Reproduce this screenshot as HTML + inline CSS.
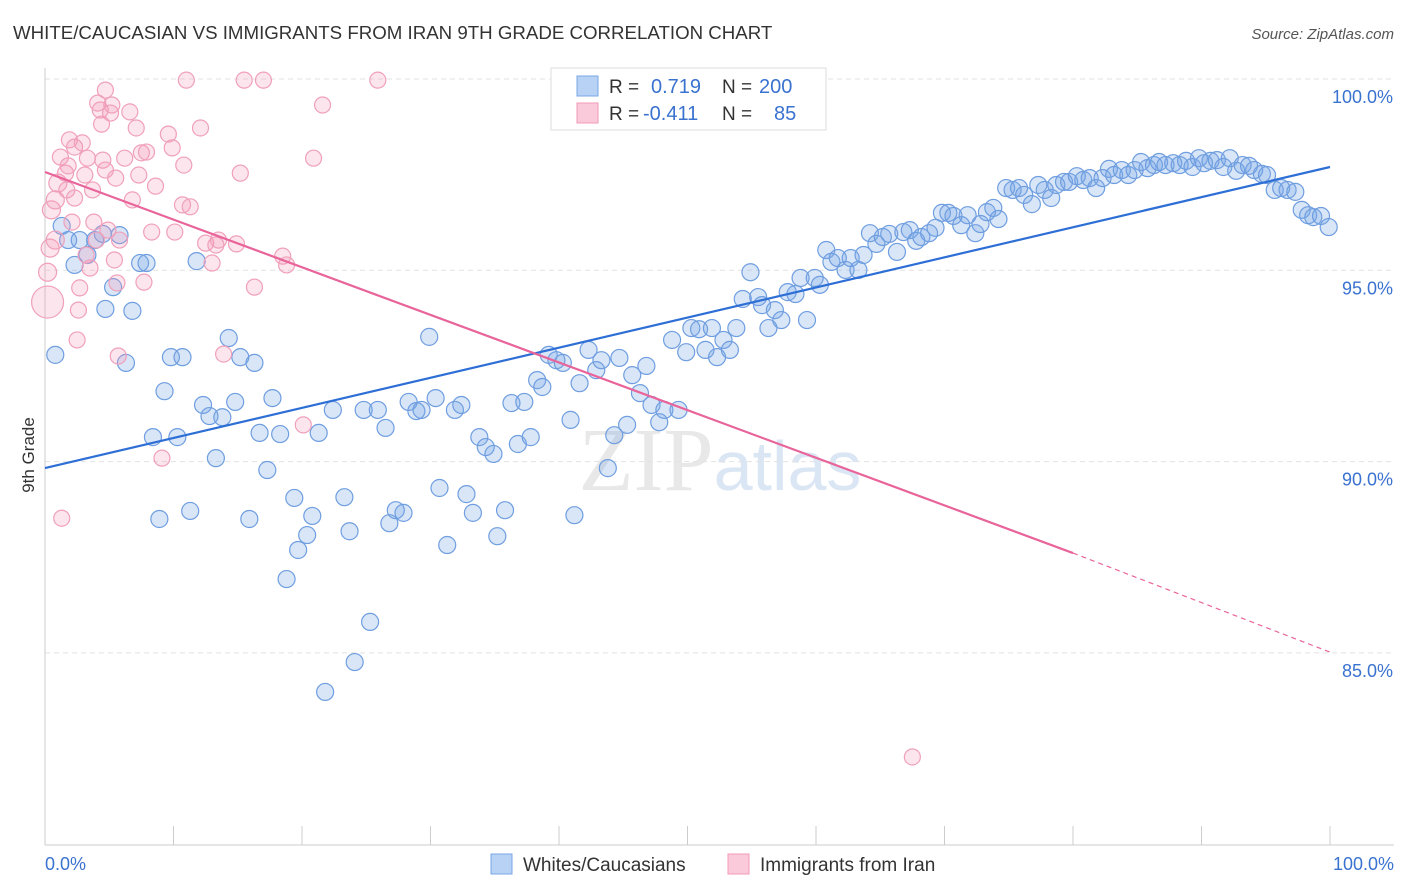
<!DOCTYPE html>
<html><head><meta charset="utf-8"><style>
body{margin:0;background:#fff;font-family:"Liberation Sans",sans-serif;}
svg{display:block}
</style></head><body>
<svg id="chart" width="1406" height="892" xmlns="http://www.w3.org/2000/svg">
<text x="13" y="39" font-size="18.7" fill="#333" font-family="Liberation Sans, sans-serif">WHITE/CAUCASIAN VS IMMIGRANTS FROM IRAN 9TH GRADE CORRELATION CHART</text>
<text x="1394" y="39" font-size="15" fill="#555" text-anchor="end" font-style="italic">Source: ZipAtlas.com</text>
<text x="720" y="490" font-size="90" fill="#e8e8e8" text-anchor="middle" font-family="Liberation Serif, serif">ZIP<tspan fill="#dbe6f5" font-family="Liberation Sans, sans-serif" font-size="70">atlas</tspan></text>
<g id="grid"></g>
<g id="axes"></g>
<g id="blue-pts"></g>
<g id="pink-pts"></g>
<g id="trends"></g>
<text transform="translate(34,455) rotate(-90)" font-size="17" fill="#333" text-anchor="middle">9th Grade</text>
<g>
<rect x="551" y="68" width="275" height="62" fill="#fff" stroke="#ddd"/>
<rect x="577" y="76" width="21" height="20" fill="#b8d2f5" stroke="#7aa7e6"/>
<rect x="577" y="103" width="21" height="20" fill="#fbcada" stroke="#f19ab7"/>
<text x="609" y="93" font-size="19" fill="#333">R = </text><text x="651" y="93" font-size="20" fill="#3a72d0">0.719</text>
<text x="722" y="93" font-size="19" fill="#333">N = </text><text x="759" y="93" font-size="20" fill="#3a72d0">200</text>
<text x="609" y="120" font-size="19" fill="#333">R = </text><text x="643" y="120" font-size="20" fill="#3a72d0">-0.411</text>
<text x="722" y="120" font-size="19" fill="#333">N = </text><text x="774" y="120" font-size="20" fill="#3a72d0">85</text>
</g>
<g>
<rect x="491" y="854" width="21" height="20" fill="#b8d2f5" stroke="#7aa7e6"/>
<text x="523" y="871" font-size="19" fill="#333">Whites/Caucasians</text>
<rect x="728" y="854" width="21" height="20" fill="#fbcada" stroke="#f19ab7"/>
<text x="760" y="871" font-size="19" fill="#333">Immigrants from Iran</text>
</g>
</svg>
<script>
const blueX=[0.8,1.3,1.8,2.7,3.9,2.3,3.3,4.5,5.3,5.8,4.7,6.8,6.3,7.4,7.9,8.4,8.9,9.3,9.8,10.3,10.7,11.3,11.8,12.3,12.8,13.3,13.8,14.3,14.8,15.2,15.9,16.3,16.7,17.3,17.7,18.3,19.4,19.7,18.8,20.4,20.8,21.3,21.8,22.4,23.3,23.7,24.1,24.8,25.3,25.9,26.5,26.8,27.3,27.9,28.3,28.9,29.3,29.9,30.4,30.7,31.3,31.9,32.4,32.8,33.3,33.8,34.3,34.9,35.2,35.8,36.3,36.8,37.3,37.8,38.3,38.7,39.2,39.8,40.3,40.9,41.2,41.6,42.3,42.9,43.3,43.8,44.3,44.7,45.3,45.7,46.3,46.8,47.2,47.8,48.2,48.8,49.3,49.9,50.3,50.9,51.4,51.9,52.3,52.8,53.3,53.8,54.3,54.9,55.5,55.8,56.3,56.8,57.3,57.8,58.4,58.8,59.3,59.9,60.3,60.8,61.2,61.7,62.3,62.7,63.3,63.7,64.2,64.7,65.2,65.7,66.3,66.8,67.3,67.8,68.2,68.8,69.3,69.8,70.3,70.7,71.3,71.8,72.4,72.8,73.3,73.8,74.2,74.8,75.3,75.8,76.2,76.8,77.3,77.8,78.3,78.7,79.3,79.7,80.3,80.8,81.3,81.8,82.3,82.8,83.2,83.8,84.3,84.8,85.3,85.8,86.3,86.7,87.2,87.8,88.3,88.8,89.3,89.8,90.2,90.7,91.2,91.7,92.2,92.7,93.2,93.7,94.1,94.7,95.1,95.7,96.2,96.7,97.3,97.8,98.3,98.7,99.3,99.9];
const blueY=[92.79,96.16,95.79,95.79,95.79,95.14,95.40,95.95,94.56,95.92,93.99,93.94,92.58,95.19,95.19,90.64,88.50,91.84,92.73,90.64,92.73,88.71,95.24,91.48,91.19,90.09,91.16,93.23,91.56,92.73,88.50,92.58,90.75,89.78,91.66,90.72,89.05,87.69,86.93,88.08,88.58,90.75,83.98,91.35,89.07,88.18,84.76,91.35,85.81,91.35,90.88,88.39,88.73,88.66,91.56,91.32,91.35,93.26,91.66,89.31,87.82,91.35,91.48,89.15,88.66,90.64,90.38,90.20,88.05,88.73,91.53,90.46,91.56,90.64,92.13,91.95,92.79,92.65,92.58,91.09,88.60,92.05,92.92,92.39,92.65,89.83,90.69,92.71,90.96,92.26,91.79,92.50,91.48,91.03,91.35,93.18,91.35,92.86,93.49,93.46,92.92,93.49,92.73,93.18,92.92,93.49,94.25,94.95,94.30,94.09,93.49,93.96,93.70,94.43,94.38,94.80,93.70,94.80,94.62,95.53,95.22,95.32,95.01,95.32,95.01,95.40,95.97,95.69,95.87,95.95,95.48,96.00,96.05,95.77,95.87,95.97,96.11,96.50,96.50,96.42,96.18,96.44,95.97,96.21,96.52,96.63,96.34,97.15,97.10,97.15,96.97,96.73,97.23,97.10,96.89,97.23,97.31,97.31,97.46,97.36,97.41,97.15,97.41,97.65,97.49,97.62,97.49,97.62,97.83,97.67,97.75,97.83,97.75,97.80,97.75,97.86,97.70,97.93,97.80,97.86,97.88,97.70,97.93,97.60,97.75,97.73,97.62,97.52,97.49,97.10,97.15,97.10,97.05,96.58,96.44,96.39,96.42,96.13];
const pinkX=[0.2,0.2,0.4,0.5,0.8,1.0,0.8,1.2,1.3,1.6,1.7,1.8,1.9,2.1,2.3,2.3,2.5,2.6,2.7,2.9,3.1,3.2,3.3,3.5,3.7,3.8,4.0,4.1,4.3,4.4,4.5,4.7,4.7,4.9,5.1,5.2,5.4,5.5,5.6,5.7,5.8,6.2,6.6,6.8,7.1,7.3,7.5,7.7,7.9,8.3,8.6,9.1,9.6,9.9,10.1,10.7,10.8,11.0,11.3,12.1,12.5,13.0,13.3,13.5,13.9,14.9,15.2,15.5,16.3,17.0,18.5,18.8,20.1,20.9,21.6,25.9,67.5];
const pinkY=[94.17,94.95,95.58,96.58,95.79,97.28,96.84,97.96,88.52,97.54,97.10,97.73,98.41,96.26,98.22,96.89,93.18,93.96,94.54,98.33,97.49,95.40,97.93,95.06,97.10,96.26,95.79,99.37,99.19,98.82,97.88,97.62,99.71,96.05,99.11,99.32,95.27,97.41,94.67,92.76,95.79,97.93,99.14,96.84,98.72,97.49,98.07,94.69,98.09,96.00,97.20,90.09,98.56,98.20,96.00,96.71,97.75,99.97,96.66,98.72,95.71,95.19,95.66,95.79,92.81,95.69,97.54,99.97,94.56,99.97,95.37,95.14,90.96,97.93,99.32,99.97,82.28];
const pinkR=[16,9,9,9,9,9,9,8,8,8,8,8,8,8,8,8,8,8,8,8,8,8,8,8,8,8,8,8,8,8,8,8,8,8,8,8,8,8,8,8,8,8,8,8,8,8,8,8,8,8,8,8,8,8,8,8,8,8,8,8,8,8,8,8,8,8,8,8,8,8,8,8,8,8,8,8,8];
const yTicks=[100,95,90,85];
const yTickLabels=["100.0%","95.0%","90.0%","85.0%"];
const xTicks=[0,10,20,30,40,50,60,70,80,90,100];
const blueTrend=[89.83,97.70];
const pinkTrend=[97.57,87.61,85.02];
const pinkSolidEnd=80;

const X0=45,X1=1330,YTOP=79,PXPER=38.26;
const sx=v=>X0+(X1-X0)*v/100;
const sy=v=>YTOP+(100-v)*PXPER;
const NS="http://www.w3.org/2000/svg";
function mk(tag,attrs,parent){const e=document.createElementNS(NS,tag);for(const k in attrs)e.setAttribute(k,attrs[k]);parent.appendChild(e);return e;}
const grid=document.getElementById('grid'),axes=document.getElementById('axes');
yTicks.forEach((t,i)=>{
  const l=mk('line',{x1:X0,x2:1394,y1:sy(t),y2:sy(t),stroke:'#e2e2e2','stroke-dasharray':'5,4'},grid);
  
  
  const tx=mk('text',{x:1393,y:sy(t)+24,'font-size':18,fill:'#3a72d0','text-anchor':'end'},grid);
  tx.textContent=yTickLabels[i];
  
  
});
const ax=mk('line',{x1:X0,x2:X0,y1:68,y2:845,stroke:'#ccc'},axes);


const bx=mk('line',{x1:X0,x2:1394,y1:845,y2:845,stroke:'#ccc'},axes);


xTicks.forEach(t=>{
  const l=mk('line',{x1:sx(t),x2:sx(t),y1:826,y2:845,stroke:'#ccc'},axes);
  
  
});
const xl=mk('text',{x:45,y:870,'font-size':18,fill:'#3a72d0'},axes);xl.textContent='0.0%';


const xr=mk('text',{x:1394,y:870,'font-size':18,fill:'#3a72d0','text-anchor':'end'},axes);xr.textContent='100.0%';


const bg=document.getElementById('blue-pts');
blueX.forEach((v,i)=>{
  const c=mk('circle',{cx:sx(v),cy:sy(blueY[i]),r:8.5,fill:'rgba(120,165,230,0.28)',stroke:'#6f9ee0','stroke-width':1.2},bg);
  
  
});
const pg=document.getElementById('pink-pts');
pinkX.forEach((v,i)=>{
  const c=mk('circle',{cx:sx(v),cy:sy(pinkY[i]),r:pinkR[i],fill:'rgba(245,150,180,0.25)',stroke:'#f0a0bb','stroke-width':1.2},pg);
  
  
});
const tg=document.getElementById('trends');
const bl=mk('line',{x1:sx(0),y1:sy(blueTrend[0]),x2:sx(100),y2:sy(blueTrend[1]),stroke:'#2e6fd6','stroke-width':2.2},tg);


const pl=mk('line',{x1:sx(0),y1:sy(pinkTrend[0]),x2:sx(pinkSolidEnd),y2:sy(pinkTrend[1]),stroke:'#e8649a','stroke-width':2.2},tg);


const pd=mk('line',{x1:sx(pinkSolidEnd),y1:sy(pinkTrend[1]),x2:sx(100),y2:sy(pinkTrend[2]),stroke:'#e8649a','stroke-width':1.2,'stroke-dasharray':'5,4'},tg);


</script>
</body></html>
